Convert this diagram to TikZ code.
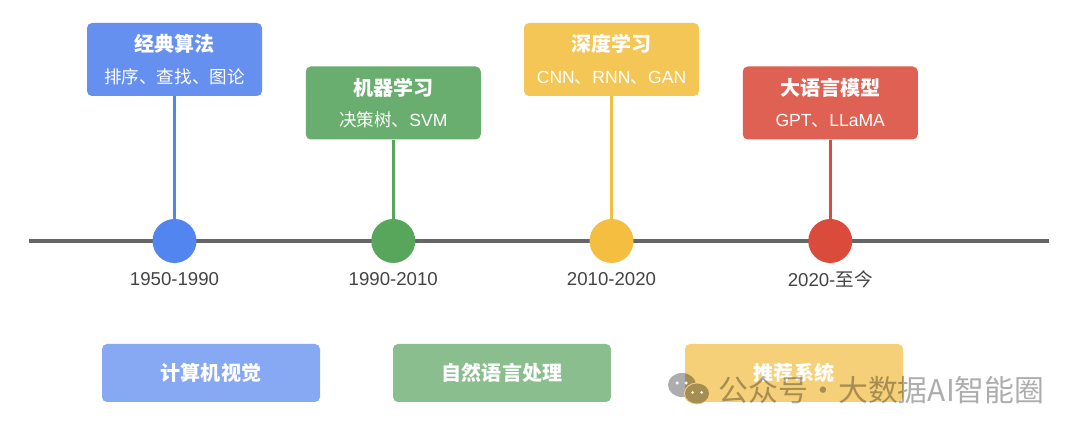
\documentclass[tikz,border=0pt]{standalone}
\usepackage{fontspec}
\setmainfont{Liberation Sans}
\newfontfamily\cjk{Noto Sans CJK SC}
\definecolor{blueA}{HTML}{5285EF}
\definecolor{blueB}{HTML}{6590EF}
\definecolor{blueC}{HTML}{87A8F2}
\definecolor{greenA}{HTML}{58A65C}
\definecolor{greenB}{HTML}{69AE6F}
\definecolor{greenC}{HTML}{8BBE8E}
\definecolor{yellowA}{HTML}{F4BE41}
\definecolor{yellowB}{HTML}{F4C655}
\definecolor{yellowC}{HTML}{F5D078}
\definecolor{redA}{HTML}{DB4B3C}
\definecolor{redB}{HTML}{DF6153}
\definecolor{axisgray}{HTML}{666666}
\definecolor{labelgray}{HTML}{444444}
\tikzset{
  erabox/.style={rounded corners=0.1cm,minimum width=3.5cm,minimum height=1.46cm,inner sep=0pt,
    text=white,align=center,font=\fontsize{10pt}{15pt}\selectfont},
  fieldbox/.style={rounded corners=0.1cm,minimum width=4.36cm,minimum height=1.16cm,inner sep=0pt,
    text=white,font=\cjk\bfseries\fontsize{11.4pt}{14pt}\selectfont},
  dot/.style={circle,minimum size=0.88cm,inner sep=0pt},
  stem/.style={line width=0.06cm},
  datelabel/.style={text=labelgray,font=\fontsize{10.6pt}{13pt}\selectfont}
}
\newcommand{\eratitle}[1]{{\cjk\bfseries\fontsize{11.4pt}{15pt}\selectfont #1}}
\begin{document}
\begin{tikzpicture}
  \useasboundingbox (0,0) rectangle (21.6,8.64);
  \fill[white] (0,0) rectangle (21.6,8.64);

  % axis
  \coordinate (axisL) at (0.58,3.82);
  \coordinate (axisR) at (20.98,3.82);
  \draw[axisgray,line width=0.08cm] (axisL) -- (axisR);

  % eras
  \node[erabox,fill=blueB] (box1) at (3.49,7.45) {\eratitle{经典算法}\\[3pt]{\cjk 排序、查找、图论}};
  \node[erabox,fill=greenB] (box2) at (7.865,6.58) {\eratitle{机器学习}\\[3pt]{\cjk 决策树、}SVM};
  \node[erabox,fill=yellowB] (box3) at (12.23,7.45) {\eratitle{深度学习}\\[3pt]CNN{\cjk 、}RNN{\cjk 、}GAN};
  \node[erabox,fill=redB] (box4) at (16.605,6.58) {\eratitle{大语言模型}\\[3pt]GPT{\cjk 、}LLaMA};

  \node[dot,fill=blueA] (dot1) at (3.49,3.82) {};
  \node[dot,fill=greenA] (dot2) at (7.865,3.82) {};
  \node[dot,fill=yellowA] (dot3) at (12.23,3.82) {};
  \node[dot,fill=redA] (dot4) at (16.605,3.82) {};

  \draw[stem,blueA] (box1) -- (dot1);
  \draw[stem,greenA] (box2) -- (dot2);
  \draw[stem,yellowA] (box3) -- (dot3);
  \draw[stem,redA] (box4) -- (dot4);

  \node[datelabel] (date1) at (3.49,3.06) {1950-1990};
  \node[datelabel] (date2) at (7.865,3.06) {1990-2010};
  \node[datelabel] (date3) at (12.23,3.06) {2010-2020};
  \node[datelabel] (date4) at (16.605,3.06) {2020-{\cjk 至今}};

  % fields
  \node[fieldbox,fill=blueC] (field1) at (4.22,1.18) {计算机视觉};
  \node[fieldbox,fill=greenC] (field2) at (10.04,1.18) {自然语言处理};
  \node[fieldbox,fill=yellowC] (field3) at (15.88,1.18) {推荐系统};

  % watermark
  \fill[black,opacity=0.32] (13.64,0.94) ellipse (0.28cm and 0.24cm);
  \fill[white,opacity=0.9] (13.54,0.98) circle (0.035cm) (13.72,0.98) circle (0.035cm);
  \fill[yellowC] (13.94,0.77) ellipse (0.26cm and 0.22cm);
  \fill[black,opacity=0.32] (13.94,0.77) ellipse (0.24cm and 0.2cm);
  \fill[white,opacity=0.9] (13.85,0.79) circle (0.03cm) (14.03,0.79) circle (0.03cm);
  \node[text=black,opacity=0.32,anchor=west,inner sep=0pt,font=\cjk\fontsize{17pt}{20pt}\selectfont] (mark)
    at (14.36,0.84) {公众号\hspace{-3.7pt} · \hspace{-3.7pt}大数据AI智能圈};
\end{tikzpicture}
\end{document}
